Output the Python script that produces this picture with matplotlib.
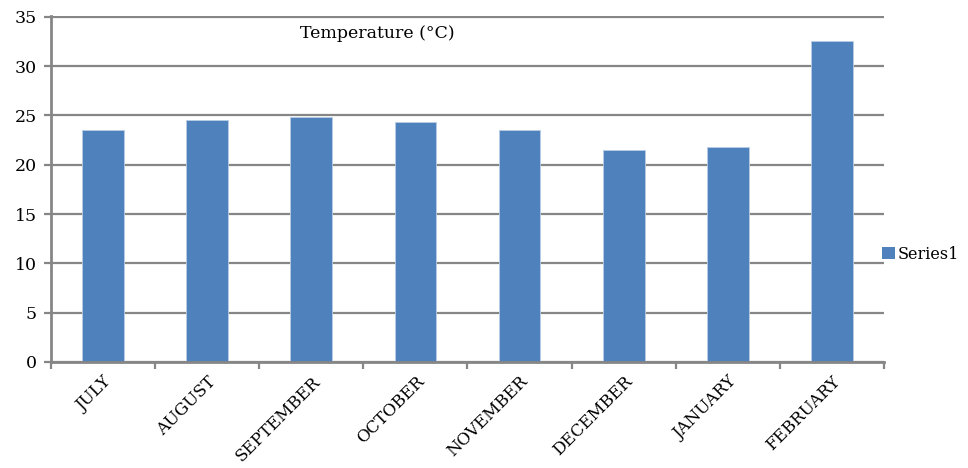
import numpy as np
import matplotlib.pyplot as plt
from matplotlib.patches import Patch

plt.rcParams["font.family"] = ["DejaVu Serif"]

months = ["JULY", "AUGUST", "SEPTEMBER", "OCTOBER", "NOVEMBER", "DECEMBER", "JANUARY", "FEBRUARY"]
temps = [23.5, 24.5, 24.8, 24.3, 23.5, 21.5, 21.8, 32.5]
yticks = [0, 5, 10, 15, 20, 25, 30, 35]

BAR_COLOR = "#4F81BD"
GRID_COLOR = "#868686"

fig = plt.figure(figsize=(9.68, 4.68), dpi=100)
ax = fig.add_axes([0.0527, 0.2265, 0.8605, 0.7393])

x = np.arange(len(months))
ax.bar(x, temps, width=0.4, color=BAR_COLOR, edgecolor="#B9CDE5", linewidth=0.6, zorder=3)

ax.set_xlim(-0.5, len(months) - 0.5)
ax.set_ylim(0, 35.08)
ax.set_yticks(yticks)
ax.set_yticklabels([str(v) for v in yticks], fontsize=12.5)
ax.yaxis.grid(True, color=GRID_COLOR, linewidth=1.6, zorder=0)

# 类别刻度在分界处，标签在柱中间
ax.set_xticks(np.arange(len(months) + 1) - 0.5)
ax.set_xticklabels([])
ax.set_xticks(x, minor=True)
ax.set_xticklabels(months, minor=True, rotation=45, ha="right",
                   rotation_mode="anchor", fontsize=12)
ax.tick_params(axis="x", which="minor", length=0, pad=8)
ax.tick_params(axis="x", which="major", length=5, width=1.6, color=GRID_COLOR)
ax.tick_params(axis="y", length=5, width=1.6, color=GRID_COLOR, pad=5)

for side in ["top", "right"]:
    ax.spines[side].set_visible(False)
ax.spines["left"].set_color(GRID_COLOR)
ax.spines["left"].set_linewidth(2)
ax.spines["bottom"].set_color(GRID_COLOR)
ax.spines["bottom"].set_linewidth(2)
ax.spines["bottom"].set_zorder(4)

ax.text(2.63, 33.3, "Temperature (°C)", fontsize=12.5, ha="center", va="center")

handle = Patch(facecolor=BAR_COLOR, edgecolor="none")
fig.legend([handle], ["Series1"], loc="center left", bbox_to_anchor=(0.911, 0.457),
           frameon=False, fontsize=11.5, handlelength=0.8, handleheight=0.8,
           handletextpad=0.2, borderaxespad=0, borderpad=0)

fig.savefig("out.png", dpi=100)
